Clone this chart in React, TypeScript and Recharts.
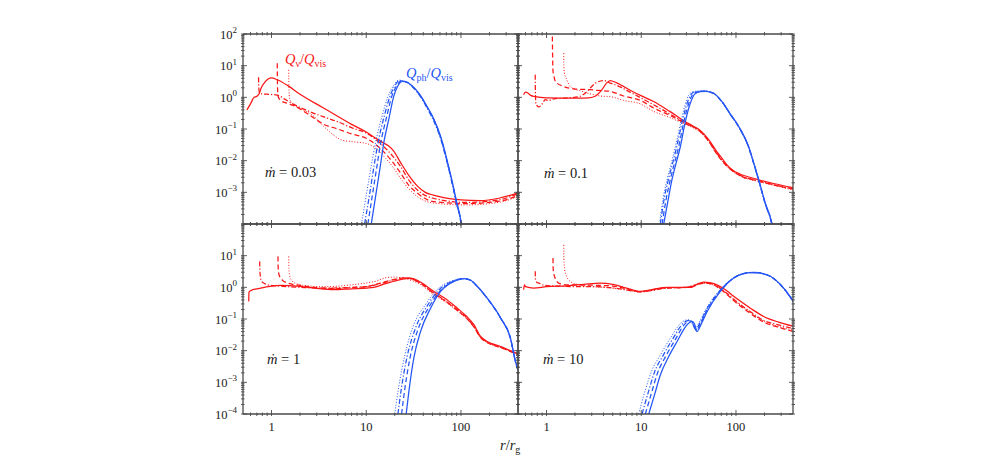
import React from "react";
import { LineChart, Line, XAxis, YAxis } from "recharts";

const RED = "#fa1616";
const BLUE = "#2455f5";
const FRAME = "#4a4a4a";
const SERIF = '"Liberation Serif", "DejaVu Serif", serif';

// tick positions
const X_MAJOR = [1, 10, 100];
const X_MINOR = [0.6, 0.7, 0.8, 0.9, 2, 3, 4, 5, 6, 7, 8, 9, 20, 30, 40, 50, 60, 70, 80, 90, 200, 300];
const Y_MAJOR = [1e-4, 1e-3, 1e-2, 1e-1, 1, 10, 100];
const Y_MULT = [2, 3, 4, 5, 6, 7, 8, 9];
const Y_MINOR = Y_MAJOR.slice(0, -1).flatMap((d) => Y_MULT.map((m) => m * d));

// ---- mdot = 0.03 : Q_nu / Q_vis
const nu003Solid = [[0.55, 0.4], [0.6, 0.62], [0.65, 0.98], [0.7, 1.08], [0.74, 1.3], [0.78, 2.0], [0.85, 3.0], [0.92, 3.8], [1.0, 4.1], [1.15, 3.6], [1.5, 2.3], [2, 1.25], [3.5, 0.47], [7, 0.14], [10, 0.08], [13, 0.048], [15.3, 0.036], [17, 0.03], [19.5, 0.02], [23, 0.0088], [28, 0.0035], [34.5, 0.0016], [42, 0.001], [51, 8.2e-4], [70, 6.6e-4], [100, 5.8e-4], [160, 5.5e-4], [250, 6.5e-4], [330, 8e-4], [400, 9.6e-4]];
const nu003DashDot = [[0.73, 4.3], [0.734, 2.0], [0.745, 1.4], [0.8, 1.28], [0.95, 1.24], [1.15, 1.18], [1.4, 0.85], [1.72, 0.6], [2.5, 0.36], [3.57, 0.24], [5, 0.17], [7, 0.11], [10, 0.074], [15.3, 0.028], [19, 0.014], [23, 0.0066], [28, 0.0025], [34.5, 0.0012], [51, 6.5e-4], [115, 4.8e-4], [260, 5.9e-4], [400, 9.1e-4]];
const nu003Dashed = [[1.15, 12], [1.155, 3], [1.17, 1.1], [1.25, 0.8], [1.45, 0.65], [1.72, 0.55], [2.5, 0.28], [3.57, 0.14], [5, 0.1], [7, 0.07], [10, 0.051], [15.3, 0.019], [19, 0.009], [23, 0.0041], [28, 0.0017], [34.5, 9.5e-4], [51, 5.1e-4], [115, 4.4e-4], [260, 5.3e-4], [400, 8e-4]];
const nu003Dotted = [[1.52, 7.4], [1.525, 2.5], [1.55, 0.9], [1.7, 0.6], [2, 0.45], [2.8, 0.25], [3.57, 0.12], [4.5, 0.065], [5.5, 0.045], [7, 0.04], [10, 0.035], [13.6, 0.02], [15.3, 0.0138], [19, 0.0065], [23, 0.0028], [28, 0.0013], [34.5, 7.4e-4], [51, 4.6e-4], [115, 4e-4], [260, 4.9e-4], [400, 7.5e-4]];
// ---- mdot = 0.03 : Q_ph / Q_vis
const ph003Solid = [[11.3, 1e-4], [12.6, 8e-4], [14.1, 7e-3], [15.3, 0.036], [17.4, 0.22], [19.5, 1.07], [21.4, 2.2], [24, 3.2], [27, 3.0], [30, 2.4], [37, 1.2], [45, 0.45], [52, 0.2], [62, 0.05], [70, 0.013], [80, 2.5e-3], [90, 5e-4], [100, 1.2e-4], [104, 5e-5]];
const ph003Dashed = [[10.4, 1e-4], [11.6, 8e-4], [13, 7e-3], [14.2, 0.036], [16.3, 0.22], [18.6, 1.07], [20.7, 2.2], [23.5, 3.3], [27, 3.0], [30, 2.35], [37, 1.15], [45, 0.43], [52, 0.19], [62, 0.047], [70, 0.012], [80, 2.3e-3], [90, 4.6e-4], [100, 1.1e-4], [103, 5e-5]];
const ph003DashDot = [[9.6, 1e-4], [10.8, 8e-4], [12.1, 7e-3], [13.3, 0.036], [15.3, 0.22], [17.8, 1.07], [20, 2.3], [22.5, 3.4], [26, 3.1], [30, 2.3], [37, 1.1], [45, 0.4], [52, 0.17], [62, 0.042], [70, 0.011], [80, 2.1e-3], [90, 4.2e-4], [100, 1e-4], [102, 5e-5]];
const ph003Dotted = [[8.9, 1e-4], [10, 8e-4], [11.3, 7e-3], [12.5, 0.036], [14.5, 0.22], [17, 1.07], [19.5, 2.4], [22, 3.5], [26, 3.1], [30, 2.35], [37, 1.15], [45, 0.42], [52, 0.18], [62, 0.045], [70, 0.012], [80, 2.2e-3], [90, 4.4e-4], [100, 1e-4], [103, 5e-5]];

// ---- mdot = 0.1
const nu01Solid = [[0.573, 1.2], [0.6, 1.45], [0.63, 1.4], [0.68, 1.15], [0.76, 1.05], [1, 0.97], [2, 0.95], [2.8, 0.97], [3.3, 1.1], [3.85, 1.74], [4.3, 2.8], [4.7, 3.4], [5.5, 2.85], [8, 1.55], [9.8, 1.15], [13.5, 0.74], [20, 0.36], [29.2, 0.17], [36, 0.12], [42, 0.09], [51.5, 0.046], [63, 0.019], [71, 0.012], [80, 7.5e-3], [91, 5.2e-3], [110, 3.8e-3], [140, 3e-3], [174, 2.5e-3], [250, 1.9e-3], [400, 1.4e-3]];
const nu01DashDot = [[0.76, 5.2], [0.764, 1.2], [0.775, 0.6], [0.83, 0.5], [0.9, 0.62], [0.97, 0.84], [1.05, 0.8], [1.2, 0.9], [1.6, 0.95], [2.2, 1.05], [2.57, 1.36], [3.28, 2.8], [4.0, 3.4], [4.7, 2.8], [5.5, 2.4], [8, 1.35], [9.8, 0.98], [13.5, 0.58], [20, 0.3], [29.2, 0.155], [42, 0.085], [51.5, 0.042], [63, 0.017], [80, 7e-3], [110, 3.5e-3], [174, 2.3e-3], [400, 1.3e-3]];
const nu01Dashed = [[1.15, 150], [1.16, 20], [1.17, 7], [1.2, 4.5], [1.24, 3.2], [1.46, 2.3], [2, 1.83], [2.9, 1.74], [3.5, 1.65], [4.7, 1.54], [6.5, 1.1], [9.8, 0.8], [13.5, 0.46], [20, 0.27], [29.2, 0.15], [42, 0.083], [51.5, 0.041], [63, 0.016], [80, 6.8e-3], [110, 3.4e-3], [174, 2.25e-3], [400, 1.25e-3]];
const nu01Dotted = [[1.52, 25], [1.525, 9], [1.56, 5], [1.6, 4.2], [1.78, 2.2], [2.37, 1.54], [3, 1.25], [3.7, 1.1], [4.7, 1.05], [6.5, 0.8], [9.8, 0.62], [13.5, 0.36], [20, 0.23], [29.2, 0.14], [42, 0.078], [51.5, 0.04], [63, 0.016], [80, 6.6e-3], [110, 3.3e-3], [174, 2.2e-3], [400, 1.2e-3]];
const ph01Solid = [[17.26, 1e-4], [19, 4.7e-4], [21.1, 2.5e-3], [23.5, 9e-3], [25.9, 0.028], [29.2, 0.17], [33, 0.66], [37, 1.3], [42, 1.5], [48, 1.55], [58, 1.35], [71, 0.74], [87, 0.3], [107, 0.12], [136, 0.028], [155, 0.008], [174, 2.5e-3], [204, 4.6e-4], [240, 1e-4], [250, 5e-5]];
const ph01Dashed = [[16.6, 1e-4], [18.3, 6e-4], [20.3, 2.6e-3], [22.7, 9.5e-3], [25, 0.03], [28.3, 0.18], [32, 0.7], [36, 1.35], [41, 1.52], [47, 1.56], [58, 1.34], [71, 0.73], [87, 0.3], [107, 0.118], [136, 0.027], [155, 0.0078], [174, 2.4e-3], [204, 4.4e-4], [240, 1e-4], [250, 5e-5]];
const ph01DashDot = [[15.9, 1e-4], [17.5, 6.5e-4], [19.5, 2.8e-3], [21.8, 0.01], [24, 0.033], [27.3, 0.19], [31, 0.75], [35, 1.4], [40, 1.55], [46, 1.57], [58, 1.33], [71, 0.72], [87, 0.29], [107, 0.115], [136, 0.026], [155, 0.0075], [174, 2.3e-3], [204, 4.2e-4], [238, 1e-4], [248, 5e-5]];
const ph01Dotted = [[15.6, 1e-4], [17.1, 7e-4], [19, 3e-3], [21.3, 0.011], [23.4, 0.036], [26.6, 0.2], [30, 0.8], [34, 1.45], [39, 1.57], [45, 1.58], [58, 1.33], [71, 0.72], [87, 0.29], [107, 0.115], [136, 0.026], [155, 0.0075], [174, 2.3e-3], [204, 4.2e-4], [238, 1e-4], [248, 5e-5]];

// ---- mdot = 1
const nu1Solid = [[0.575, 0.36], [0.578, 0.7], [0.6, 0.78], [0.77, 0.95], [1.24, 1.15], [2.0, 1.07], [3, 0.92], [4.55, 0.84], [7, 0.9], [10.2, 0.95], [12, 1.0], [16, 1.3], [23, 1.74], [29.4, 1.96], [36, 1.55], [51.8, 0.74], [70, 0.42], [91.3, 0.22], [115, 0.12], [137, 0.066], [161, 0.028], [189, 0.0195], [263, 0.0135], [377, 8.5e-3], [400, 8e-3]];
const nu1DashDot = [[0.75, 6.6], [0.755, 3], [0.78, 1.6], [0.85, 1.3], [0.9, 1.2], [1.2, 1.1], [2, 1.0], [3, 0.95], [4.55, 0.95], [7, 1.0], [10, 1.05], [14, 1.3], [20, 1.75], [25, 2.0], [30, 1.85], [36, 1.45], [51.8, 0.66], [70, 0.36], [91, 0.2], [115, 0.11], [137, 0.058], [161, 0.027], [189, 0.019], [263, 0.013], [400, 7.8e-3]];
const nu1Dashed = [[1.17, 9.5], [1.175, 4.5], [1.2, 2.5], [1.3, 1.7], [1.47, 1.37], [2, 1.15], [3, 0.98], [4.55, 0.92], [7, 0.98], [10, 1.05], [14, 1.35], [20, 1.8], [25, 2.0], [30, 1.85], [36, 1.45], [51.8, 0.64], [70, 0.35], [91, 0.19], [115, 0.105], [137, 0.056], [161, 0.026], [189, 0.018], [263, 0.0125], [400, 7.5e-3]];
const nu1Dotted = [[1.52, 9.5], [1.525, 4], [1.56, 2.2], [1.65, 1.6], [1.87, 1.27], [2.5, 1.1], [3.5, 1.05], [4.55, 1.07], [7, 1.2], [10, 1.37], [13, 1.6], [16.6, 2.05], [20, 2.1], [25, 1.9], [30, 1.65], [36, 1.3], [51.8, 0.58], [70, 0.33], [91, 0.18], [115, 0.1], [137, 0.055], [161, 0.026], [189, 0.018], [263, 0.0125], [400, 7.5e-3]];
const ph1Solid = [[26.4, 1e-4], [28.2, 5.2e-4], [31.8, 5.9e-3], [37.4, 0.04], [47.8, 0.22], [61, 0.74], [84, 1.54], [107, 1.87], [125, 1.7], [149, 1.07], [189, 0.46], [263, 0.107], [333, 0.025], [377, 4.5e-3], [400, 2.5e-3]];
const ph1Dashed = [[23.6, 1e-4], [25.5, 6e-4], [29, 6e-3], [35, 0.045], [46, 0.24], [60, 0.76], [84, 1.55], [107, 1.86], [125, 1.7], [149, 1.06], [189, 0.45], [263, 0.105], [333, 0.025], [377, 4.4e-3], [400, 2.5e-3]];
const ph1DashDot = [[21.6, 1e-4], [23.5, 6.5e-4], [27, 6.5e-3], [33, 0.05], [44, 0.26], [58, 0.8], [82, 1.57], [105, 1.88], [125, 1.7], [149, 1.05], [189, 0.45], [263, 0.104], [333, 0.024], [377, 4.3e-3], [400, 2.4e-3]];
const ph1Dotted = [[20, 1e-4], [22, 7e-4], [25.5, 7e-3], [31, 0.055], [42, 0.28], [56, 0.85], [80, 1.6], [102, 1.9], [125, 1.72], [149, 1.06], [189, 0.45], [263, 0.104], [333, 0.024], [377, 4.3e-3], [400, 2.4e-3]];

// ---- mdot = 10
const nu10Solid = [[0.573, 0.84], [0.585, 1.2], [0.6, 1.05], [0.73, 0.95], [1.0, 1.05], [1.65, 1.12], [2.5, 1.25], [3.7, 1.36], [5, 1.25], [7, 0.95], [9.8, 0.74], [13, 0.85], [18.7, 1.0], [33, 1.0], [38, 1.2], [45.6, 1.47], [53, 1.42], [63, 1.2], [80, 0.78], [94.6, 0.52], [142, 0.22], [196, 0.12], [280, 0.08], [405, 0.059]];
const nu10DashDot = [[0.76, 3.2], [0.765, 1.8], [0.8, 1.4], [0.83, 1.36], [0.95, 1.15], [1.3, 1.1], [2, 1.05], [3, 1.05], [4, 1.02], [6, 0.9], [9.8, 0.72], [13, 0.8], [18.7, 0.95], [30, 0.98], [33, 1.05], [40, 1.3], [47, 1.38], [55, 1.3], [63, 1.1], [80, 0.65], [94.6, 0.42], [142, 0.17], [196, 0.09], [280, 0.065], [405, 0.05]];
const nu10Dashed = [[1.17, 8.4], [1.175, 4], [1.2, 2.5], [1.25, 1.8], [1.34, 1.36], [1.65, 1.2], [2.5, 1.18], [3.7, 1.15], [5, 1.1], [7, 0.9], [9.8, 0.73], [13, 0.83], [18.7, 0.97], [33, 1.0], [40, 1.25], [47, 1.35], [55, 1.28], [63, 1.05], [80, 0.6], [94.6, 0.38], [142, 0.15], [196, 0.08], [280, 0.055], [405, 0.04]];
const nu10Dotted = [[1.52, 22], [1.525, 8], [1.55, 4], [1.6, 2.6], [1.78, 1.54], [2.2, 1.2], [3, 1.05], [4, 1.0], [6, 0.88], [9.8, 0.72], [13, 0.8], [18.7, 0.95], [30, 1.0], [35, 1.15], [42, 1.35], [50, 1.32], [63, 1.05], [80, 0.62], [94.6, 0.4], [142, 0.16], [196, 0.085], [280, 0.058], [405, 0.045]];
const ph10Solid = [[12, 1e-4], [13.8, 4e-4], [15.9, 1.7e-3], [19.5, 6.5e-3], [23.9, 0.0195], [30.5, 0.066], [34.4, 0.084], [36.5, 0.07], [38.8, 0.04], [43, 0.07], [49.5, 0.17], [68.4, 0.74], [94.6, 1.96], [120, 2.7], [154, 2.95], [213, 2.5], [319, 0.95], [405, 0.36]];
const ph10Dashed = [[11.05, 1e-4], [12.8, 4.5e-4], [14.8, 1.9e-3], [18.3, 7e-3], [22.6, 0.021], [29, 0.07], [33, 0.088], [35.5, 0.072], [38, 0.043], [42.5, 0.075], [49, 0.18], [68, 0.76], [94.6, 1.96], [120, 2.7], [154, 2.93], [213, 2.48], [319, 0.94], [405, 0.35]];
const ph10DashDot = [[10.2, 1e-4], [11.9, 5e-4], [13.8, 2.1e-3], [17.2, 7.5e-3], [21.4, 0.023], [28, 0.075], [32, 0.09], [34.8, 0.074], [37.5, 0.046], [42, 0.08], [48.5, 0.19], [67.5, 0.78], [94.6, 1.98], [120, 2.72], [150, 2.9], [213, 2.45], [319, 0.92], [405, 0.34]];
const ph10Dotted = [[9.4, 1e-4], [11, 5.5e-4], [12.9, 2.3e-3], [16.2, 8e-3], [20.3, 0.025], [27, 0.08], [31, 0.095], [34, 0.078], [37, 0.05], [41.5, 0.085], [48, 0.2], [67, 0.8], [94.6, 2.0], [120, 2.75], [150, 2.9], [213, 2.45], [319, 0.9], [405, 0.33]];

const DASH: Record<string, string | undefined> = {
  solid: undefined,
  dashed: "5 3",
  dashdot: "5 2 1.2 2",
  dotted: "1 1.8",
};

type S = { d: number[][]; c: string; s: string };
const group = (c: string, dotted: number[][], dashdot: number[][], dashed: number[][], solid: number[][]): S[] => [
  { d: dotted, c, s: "dotted" },
  { d: dashdot, c, s: "dashdot" },
  { d: dashed, c, s: "dashed" },
  { d: solid, c, s: "solid" },
];

const PANELS = [
  { key: "a", left: 242.7, top: 34.3, xl: false, yl: true, skip: 1e-4,
    series: [...group(RED, nu003Dotted, nu003DashDot, nu003Dashed, nu003Solid), ...group(BLUE, ph003Dotted, ph003DashDot, ph003Dashed, ph003Solid)] },
  { key: "b", left: 517.7, top: 34.3, xl: false, yl: false, skip: 1e-4,
    series: [...group(RED, nu01Dotted, nu01DashDot, nu01Dashed, nu01Solid), ...group(BLUE, ph01Dotted, ph01DashDot, ph01Dashed, ph01Solid)] },
  { key: "c", left: 242.7, top: 224.3, xl: true, yl: true, skip: 100,
    series: [...group(RED, nu1Dotted, nu1DashDot, nu1Dashed, nu1Solid), ...group(BLUE, ph1Dotted, ph1DashDot, ph1Dashed, ph1Solid)] },
  { key: "d", left: 517.7, top: 224.3, xl: true, yl: false, skip: 100,
    series: [...group(RED, nu10Dotted, nu10DashDot, nu10Dashed, nu10Solid), ...group(BLUE, ph10Dotted, ph10DashDot, ph10Dashed, ph10Solid)] },
];

const PW = 275;
const PH = 190;
const PAD = 40;

const isPow10 = (v: number) => Math.abs(Math.log10(v) - Math.round(Math.log10(v))) < 1e-6;
const expText = (v: number) => {
  const e = Math.round(Math.log10(v));
  return e < 0 ? "\u2212" + -e : String(e);
};

const xTick = (dir: number, labels: boolean) => (p: any) => {
  const v = p.payload.value;
  const major = isPow10(v);
  const len = major ? 6 : 3.5;
  return (
    <g>
      <line x1={p.x} x2={p.x} y1={p.y} y2={p.y + dir * len} stroke={FRAME} strokeWidth={0.9} />
      {labels && major && (
        <text x={p.x} y={p.y + 15} textAnchor="middle" fontFamily={SERIF} fontSize={12.5} fill="#1a1a1a">
          {String(v)}
        </text>
      )}
    </g>
  );
};

const yTick = (dir: number, labels: boolean, skip: number) => (p: any) => {
  const v = p.payload.value;
  const major = isPow10(v);
  const len = major ? 6 : 3.5;
  return (
    <g>
      <line x1={p.x} x2={p.x + dir * len} y1={p.y} y2={p.y} stroke={FRAME} strokeWidth={0.9} />
      {labels && major && Math.abs(v - skip) > skip * 1e-6 && (
        <text x={p.x - 4} y={p.y + 4.5} textAnchor="end" fontFamily={SERIF} fontSize={12.5} fill="#1a1a1a">
          10
          <tspan dy={-5.5} fontSize={9}>
            {expText(v)}
          </tspan>
        </text>
      )}
    </g>
  );
};

const X_TICKS = [...X_MAJOR, ...X_MINOR].sort((a, b) => a - b);
const Y_TICKS = [...Y_MAJOR, ...Y_MINOR].sort((a, b) => a - b);
const AXIS_LINE = { stroke: FRAME, strokeWidth: 1.3 };

function Panel({ left, top, xl, yl, skip, series }: any) {
  const common = { type: "number" as const, scale: "log" as const, allowDataOverflow: true, interval: 0 as const, tickSize: 0, tickLine: false, axisLine: AXIS_LINE };
  return (
    <div style={{ position: "absolute", left: left - PAD, top: top - PAD }}>
      <LineChart width={PW + 2 * PAD} height={PH + 2 * PAD} margin={{ top: 0, right: 0, bottom: 0, left: 0 }}>
        <XAxis xAxisId="b" orientation="bottom" dataKey="x" domain={[0.5, 400]} ticks={X_TICKS} height={PAD} tick={xTick(-1, xl)} {...common} />
        <XAxis xAxisId="t" orientation="top" dataKey="x" domain={[0.5, 400]} ticks={X_TICKS} height={PAD} tick={xTick(1, false)} {...common} />
        <YAxis yAxisId="l" orientation="left" domain={[1e-4, 100]} ticks={Y_TICKS} width={PAD} tick={yTick(1, yl, skip)} {...common} />
        <YAxis yAxisId="r" orientation="right" domain={[1e-4, 100]} ticks={Y_TICKS} width={PAD} tick={yTick(-1, false, skip)} {...common} />
        {series.map((s: S, i: number) => (
          <Line
            key={i}
            xAxisId="b"
            yAxisId="l"
            data={s.d.map(([x, y]) => ({ x, y }))}
            dataKey="y"
            type="monotone"
            stroke={s.c}
            strokeWidth={s.s === "dotted" ? 1 : 1.25}
            strokeDasharray={DASH[s.s]}
            dot={false}
            activeDot={false}
            isAnimationActive={false}
          />
        ))}
      </LineChart>
    </div>
  );
}

const Qlabel = ({ x, y, sub, color }: { x: number; y: number; sub: string; color: string }) => (
  <text x={x} y={y} fontFamily={SERIF} fontSize={14.5} fill={color}>
    <tspan fontStyle="italic">Q</tspan>
    <tspan fontSize={10} dy={3}>{sub}</tspan>
    <tspan dy={-3}>/</tspan>
    <tspan fontStyle="italic">Q</tspan>
    <tspan fontSize={10} dy={3}>vis</tspan>
  </text>
);

const MDOT = [
  { x: 265, y: 176.5, v: "0.03" },
  { x: 544, y: 177.5, v: "0.1" },
  { x: 267, y: 363.5, v: "1" },
  { x: 543, y: 363.5, v: "10" },
];

export default function App() {
  return (
    <div style={{ position: "absolute", left: 0, top: 0, width: 1001, height: 466, background: "#fff", overflow: "hidden" }}>
      {PANELS.map((p) => (
        <Panel key={p.key} {...p} />
      ))}
      <svg width={1001} height={466} style={{ position: "absolute", left: 0, top: 0, pointerEvents: "none" }}>
        <Qlabel x={285} y={64} sub={"\u03bd"} color={RED} />
        <Qlabel x={406} y={78} sub="ph" color={BLUE} />
        {MDOT.map((m) => (
          <text key={m.v} x={m.x} y={m.y} fontFamily={SERIF} fontSize={14.5} fill="#1a1a1a">
            <tspan fontStyle="italic">{"\u1e41"}</tspan>
            {" = " + m.v}
          </text>
        ))}
        <text x={500} y={450} fontFamily={SERIF} fontSize={14.5} fill="#1a1a1a">
          <tspan fontStyle="italic">r</tspan>/<tspan fontStyle="italic">r</tspan>
          <tspan fontSize={10} dy={3}>g</tspan>
        </text>
      </svg>
    </div>
  );
}
